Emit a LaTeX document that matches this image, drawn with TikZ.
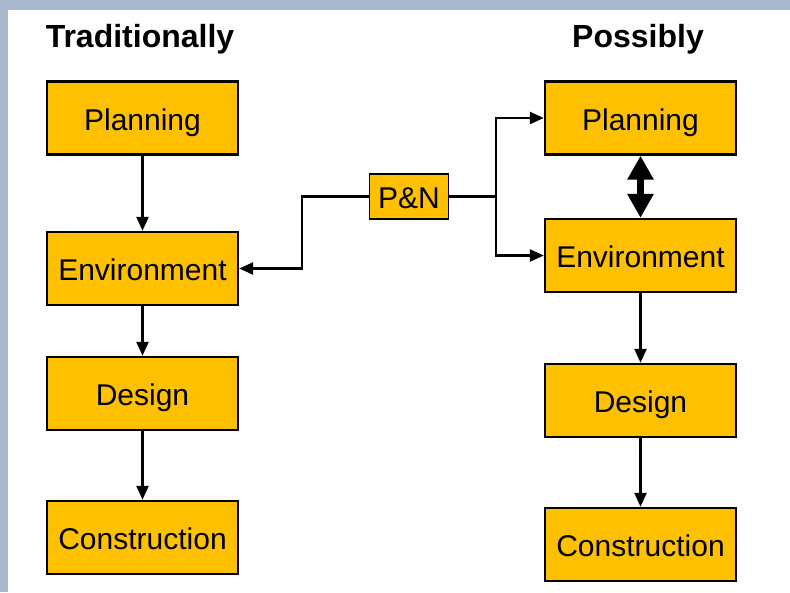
\documentclass[tikz,border=0pt]{standalone}
\usepackage{fontspec}
\setmainfont{Liberation Sans}
\usetikzlibrary{arrows.meta}
\definecolor{boxfill}{HTML}{FFC000}
\definecolor{framegray}{HTML}{A9B8CE}
\begin{document}
\begin{tikzpicture}[x=1pt,y=-1pt,
  stagebox/.style={draw=black,line width=2.4pt,fill=boxfill,minimum width=191pt,minimum height=73pt,inner sep=0pt,text height=27pt,text depth=3pt,font=\fontsize{30}{34}\selectfont},
  pnbox/.style={draw=black,line width=1.4pt,fill=boxfill,minimum width=79pt,minimum height=45pt,inner sep=0pt,text height=24pt,text depth=0pt,font=\fontsize{30}{34}\selectfont},
  title/.style={font=\bfseries\fontsize{32}{36}\selectfont},
  conn/.style={line width=2.4pt,-{Triangle[length=14pt,width=12pt]}},
  bigconn/.style={line width=7pt,{Triangle[length=24pt,width=25pt]}-{Triangle[length=24pt,width=25pt]}}]
\fill[framegray] (0,0) rectangle (790,592);
\fill[white] (8,10) rectangle (790,592);
\useasboundingbox (0,0) rectangle (790,592);
\node[title] (t1) at (140,39) {Traditionally};
\node[title] (t2) at (638,39) {Possibly};
\node[stagebox] (lplan) at (142.5,118) {Planning};
\node[stagebox] (lenv) at (142.5,268.5) {Environment};
\node[stagebox] (ldes) at (142.5,393.5) {Design};
\node[stagebox] (lcon) at (142.5,537.5) {Construction};
\node[stagebox] (rplan) at (640.5,118) {Planning};
\node[stagebox] (renv) at (640.5,255.5) {Environment};
\node[stagebox] (rdes) at (640.5,400.5) {Design};
\node[stagebox] (rcon) at (640.5,544.5) {Construction};
\node[pnbox] (pn) at (409,196.5) {P\&N};
\coordinate (j1) at (302,196.5);
\coordinate (j2) at (496,196.5);
\draw[conn] (lplan) -- (lenv);
\draw[conn] (lenv) -- (ldes);
\draw[conn] (ldes) -- (lcon);
\draw[conn] (renv) -- (rdes);
\draw[conn] (rdes) -- (rcon);
\draw[bigconn] (rplan) -- (renv);
\draw[conn] (pn.west) -- (j1) |- (lenv.east);
\draw[line width=2.4pt] (pn.east) -- (j2);
\draw[conn] (j2) |- (rplan.west);
\draw[conn] (j2) |- (renv.west);
\end{tikzpicture}
\end{document}
